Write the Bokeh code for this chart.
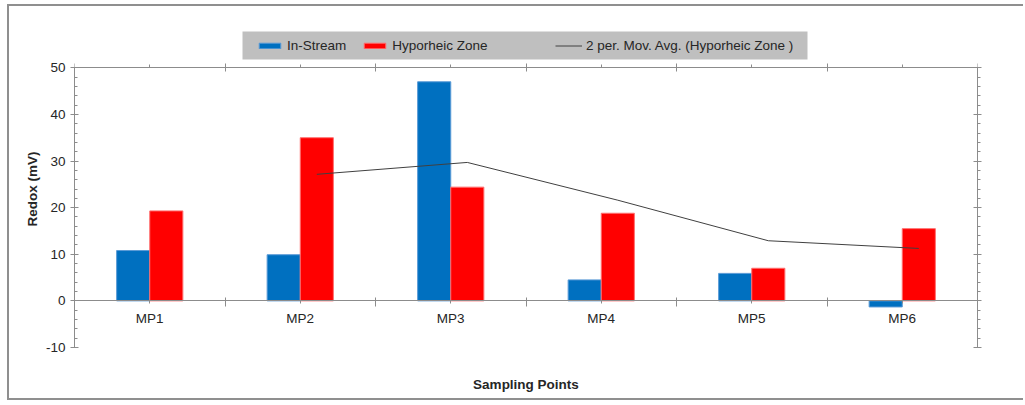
import numpy as np
from bokeh.plotting import figure
from bokeh.models import (Range1d, LinearAxis, FixedTicker, SingleIntervalTicker, Legend,
                          LegendItem, BoxAnnotation, CustomJSTickFormatter)
from bokeh.embed import file_html
from bokeh.resources import INLINE

# ---- data ----
categories = ["MP1", "MP2", "MP3", "MP4", "MP5", "MP6"]
in_stream = [10.8, 9.9, 47.0, 4.5, 5.9, -1.3]
hyporheic = [19.3, 35.0, 24.4, 18.8, 7.0, 15.5]
mov_avg = [float("nan"), 27.15, 29.7, 21.6, 12.9, 11.25]
y_min, y_max = -10, 50
y_ticks_interval = 10

FONT = "Liberation Sans"
AXIS_COLOR = "#8c8c8c"
TEXT_COLOR = "#262626"

centers = np.arange(len(categories)) + 0.5
bounds = list(range(len(categories) + 1))
bar_w = 0.22

# frame extends above the value axis top so the legend band sits inside it
p = figure(width=1016, height=396, output_backend="svg", toolbar_location=None,
           x_range=Range1d(0, len(categories)), y_range=Range1d(y_min, 58),
           x_axis_location=None, y_axis_location=None,
           min_border_left=65, min_border_right=48, min_border_top=24, min_border_bottom=55)
p.styles = {"border-left": "2px solid #8f8f8f", "border-top": "2px solid #8f8f8f",
            "border-bottom": "2px solid #8f8f8f", "margin-left": "7px", "margin-top": "4px"}
p.outline_line_color = None
p.xgrid.visible = False
p.ygrid.visible = False
p.background_fill_color = "white"
p.border_fill_color = "white"

r1 = p.vbar(x=centers - bar_w / 2, top=in_stream, bottom=0, width=bar_w,
            fill_color="#0070C0", line_color="#5a9ad6", line_width=1)
r2 = p.vbar(x=centers + bar_w / 2, top=hyporheic, bottom=0, width=bar_w,
            fill_color="#FF0000", line_color="#ff7070", line_width=1)
r3 = p.line(x=centers + bar_w / 2, y=mov_avg, line_color="#404040", line_width=1)

def style_axis(ax):
    ax.axis_line_color = AXIS_COLOR
    ax.major_tick_line_color = AXIS_COLOR
    ax.minor_tick_line_color = AXIS_COLOR
    ax.major_label_text_font = FONT
    ax.major_label_text_font_size = "13.5px"
    ax.major_label_text_color = TEXT_COLOR
    ax.axis_label_text_font = FONT
    ax.axis_label_text_font_size = "13.5px"
    ax.axis_label_text_font_style = "bold"
    ax.axis_label_text_color = TEXT_COLOR

blank = CustomJSTickFormatter(code="return ''")
plain = CustomJSTickFormatter(code="return String(Math.round(tick))")

# left value axis
left = LinearAxis(ticker=SingleIntervalTicker(interval=y_ticks_interval, num_minor_ticks=5),
                  bounds=(y_min, y_max), formatter=plain,
                  axis_label="Redox (mV)", major_tick_in=4, major_tick_out=4,
                  minor_tick_in=3, minor_tick_out=0, major_label_standoff=5,
                  axis_label_standoff=3)
style_axis(left)
p.add_layout(left, "left")

# right mirror axis
right = LinearAxis(ticker=SingleIntervalTicker(interval=y_ticks_interval, num_minor_ticks=5),
                   bounds=(y_min, y_max),
                   formatter=blank, major_tick_in=4, major_tick_out=4,
                   minor_tick_in=0, minor_tick_out=3)
style_axis(right)
p.add_layout(right, "right")

# top mirror axis at the top of the value range
top = LinearAxis(fixed_location=y_max, ticker=FixedTicker(ticks=bounds, minor_ticks=list(centers)),
                 formatter=blank, major_tick_in=4, major_tick_out=4,
                 minor_tick_in=0, minor_tick_out=3, major_label_standoff=0)
style_axis(top)
p.add_layout(top, "above")

# axis title holder below the frame (no line, no ticks)
xt = LinearAxis(ticker=FixedTicker(ticks=[]), axis_label="Sampling Points",
                major_tick_out=0, major_tick_in=0,
                minor_tick_out=0, minor_tick_in=0, major_label_standoff=0,
                axis_label_standoff=29)
style_axis(xt)
xt.axis_line_color = None
p.add_layout(xt, "below")

# category axis crossing at y=0
xb = LinearAxis(fixed_location=0, ticker=FixedTicker(ticks=list(centers), minor_ticks=bounds),
                major_label_overrides={float(c): lab for c, lab in zip(centers, categories)},
                major_tick_in=0, major_tick_out=3, minor_tick_in=3, minor_tick_out=6,
                major_label_standoff=4)
style_axis(xb)
p.add_layout(xb, "below")

# legend band background
box = BoxAnnotation(left=231, right=796, top=23, bottom=51,
                    left_units="canvas", right_units="canvas",
                    top_units="canvas", bottom_units="canvas",
                    fill_color="#BFBFBF", fill_alpha=1, line_color=None)
p.add_layout(box)

def mk_legend(items, loc):
    return Legend(items=items, orientation="horizontal", location=loc,
                  background_fill_alpha=0, border_line_color=None,
                  glyph_width=27, glyph_height=7, label_height=15,
                  label_text_font=FONT, label_text_font_size="13.5px", label_text_color=TEXT_COLOR,
                  spacing=15, label_standoff=4, padding=0, margin=0)

lg1 = mk_legend([LegendItem(label="In-Stream", renderers=[r1]),
                 LegendItem(label="Hyporheic Zone", renderers=[r2])], (182, 294))
lg2 = mk_legend([LegendItem(label="2 per. Mov. Avg. (Hyporheic Zone )", renderers=[r3])], (481, 294))
p.add_layout(lg1)
p.add_layout(lg2)

open("out.html", "w").write(file_html(p, INLINE))
